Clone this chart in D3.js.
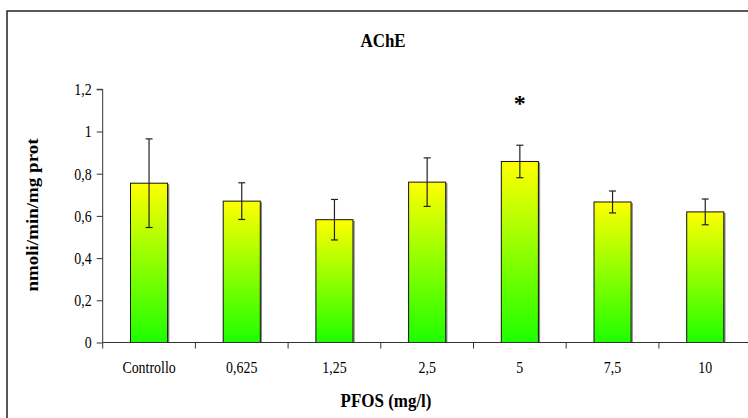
<!DOCTYPE html>
<html>
<head>
<meta charset="utf-8">
<script src="https://cdn.jsdelivr.net/npm/d3@7"></script>
<style>
  html, body { margin: 0; padding: 0; background: #fff; }
  svg { display: block; }
  svg text { font-family: "Liberation Serif", "Times New Roman", serif !important; fill: #000; }
</style>
</head>
<body>
<svg id="chart" width="748" height="418"></svg>
<script>
// AChE activity by PFOS concentration
const categories = ["Controllo", "0,625", "1,25", "2,5", "5", "7,5", "10"];
const means = [0.755, 0.670, 0.582, 0.760, 0.858, 0.666, 0.619];
const errors = [0.210, 0.087, 0.096, 0.115, 0.077, 0.052, 0.061];
const significant = [false, false, false, false, true, false, false];
const yTicks = [0, 0.2, 0.4, 0.6, 0.8, 1, 1.2];

const SQUEEZE = 0.87; // narrow, condensed lettering

const svg = d3.select("#chart");

// outer frame
svg.append("rect")
  .attr("x", 7).attr("y", 11)
  .attr("width", 760).attr("height", 420)
  .attr("fill", "none").attr("stroke", "#222").attr("stroke-width", 1.5);

const plot = { left: 102.7, top: 89.3, bottom: 342.5, right: 751.6 };

const x = d3.scaleBand()
  .domain(categories)
  .range([plot.left, plot.right])
  .paddingInner(0.6).paddingOuter(0.3);

const y = d3.scaleLinear()
  .domain([0, 1.2])
  .range([plot.bottom, plot.top]);

// place a condensed text label
function label(g, tx, ty, str, size, bold, anchor) {
  return g.append("text")
    .attr("transform", `translate(${tx},${ty}) scale(${SQUEEZE},1)`)
    .attr("text-anchor", anchor || "middle")
    .attr("font-size", size)
    .attr("font-weight", bold ? "bold" : "normal")
    .text(str);
}

// vertical gradient per bar: yellow on top, green at the base
const defs = svg.append("defs");
const grad = defs.append("linearGradient")
  .attr("id", "barFill")
  .attr("x1", 0).attr("y1", 0).attr("x2", 0).attr("y2", 1);
grad.append("stop").attr("offset", "0%").attr("stop-color", "#ffff00");
grad.append("stop").attr("offset", "100%").attr("stop-color", "#1eff00");

// title
label(svg, 383, 47, "AChE", 19.5, true);

// y axis
const yAxis = d3.axisLeft(y)
  .tickValues(yTicks)
  .tickSize(6)
  .tickFormat(d => d3.format("~g")(d).replace(".", ","));
const gy = svg.append("g")
  .attr("transform", `translate(${plot.left},0)`)
  .call(yAxis);
gy.attr("font-family", null).attr("font-size", null);
gy.select(".domain").attr("stroke", "#333").attr("d", `M-6,${plot.top}H0V${plot.bottom}`);
gy.selectAll(".tick line").attr("stroke", "#333");
gy.selectAll(".tick text")
  .attr("x", -11 / SQUEEZE)
  .attr("dy", "0.34em")
  .attr("transform", `scale(${SQUEEZE},1)`)
  .attr("font-size", 16)
  .attr("fill", "#000");

// y axis title, rotated; glyph height condensed
svg.append("text")
  .attr("transform", `translate(38,215) rotate(-90) scale(1,${SQUEEZE})`)
  .attr("text-anchor", "middle")
  .attr("font-size", 19).attr("font-weight", "bold")
  .text("nmoli/min/mg prot");

// bars
const bars = svg.append("g");
categories.forEach((c, i) => {
  const bx = x(c), bw = x.bandwidth();
  const top = y(means[i]);
  // soft shadow on the right edge
  bars.append("line")
    .attr("x1", bx + bw + 1).attr("x2", bx + bw + 1)
    .attr("y1", top + 1).attr("y2", plot.bottom)
    .attr("stroke", "#888").attr("stroke-width", 1.5);
  bars.append("rect")
    .attr("x", bx).attr("y", top)
    .attr("width", bw).attr("height", plot.bottom - top)
    .attr("fill", "url(#barFill)")
    .attr("stroke", "#111").attr("stroke-width", 1);
});

// x axis
const xEdges = d3.range(categories.length + 1).map(k => plot.left + k * x.step());
const gx = svg.append("g");
gx.append("line")
  .attr("x1", plot.left).attr("x2", plot.right)
  .attr("y1", plot.bottom).attr("y2", plot.bottom)
  .attr("stroke", "#333");
gx.selectAll("line.tick").data(xEdges).enter().append("line")
  .attr("class", "tick")
  .attr("x1", d => d).attr("x2", d => d)
  .attr("y1", plot.bottom).attr("y2", plot.bottom + 6)
  .attr("stroke", "#333");
categories.forEach(c => {
  label(gx, x(c) + x.bandwidth() / 2, 373, c, 16, false);
});

// x axis title
label(svg, 386, 407, "PFOS (mg/l)", 19.5, true);

// error bars
const eb = svg.append("g").attr("stroke", "#222").attr("stroke-width", 1.2);
categories.forEach((c, i) => {
  const cx = x(c) + x.bandwidth() / 2;
  const hi = y(means[i] + errors[i]), lo = y(means[i] - errors[i]);
  eb.append("line").attr("x1", cx).attr("x2", cx).attr("y1", hi).attr("y2", lo);
  eb.append("line").attr("x1", cx - 3.5).attr("x2", cx + 3.5).attr("y1", hi).attr("y2", hi);
  eb.append("line").attr("x1", cx - 3.5).attr("x2", cx + 3.5).attr("y1", lo).attr("y2", lo);
});

// significance marks
categories.forEach((c, i) => {
  if (!significant[i]) return;
  svg.append("text")
    .attr("x", x(c) + x.bandwidth() / 2)
    .attr("y", y(means[i] + errors[i]) - 34)
    .attr("text-anchor", "middle")
    .attr("font-size", 24).attr("font-weight", "bold")
    .text("*");
});
</script>
</body>
</html>
